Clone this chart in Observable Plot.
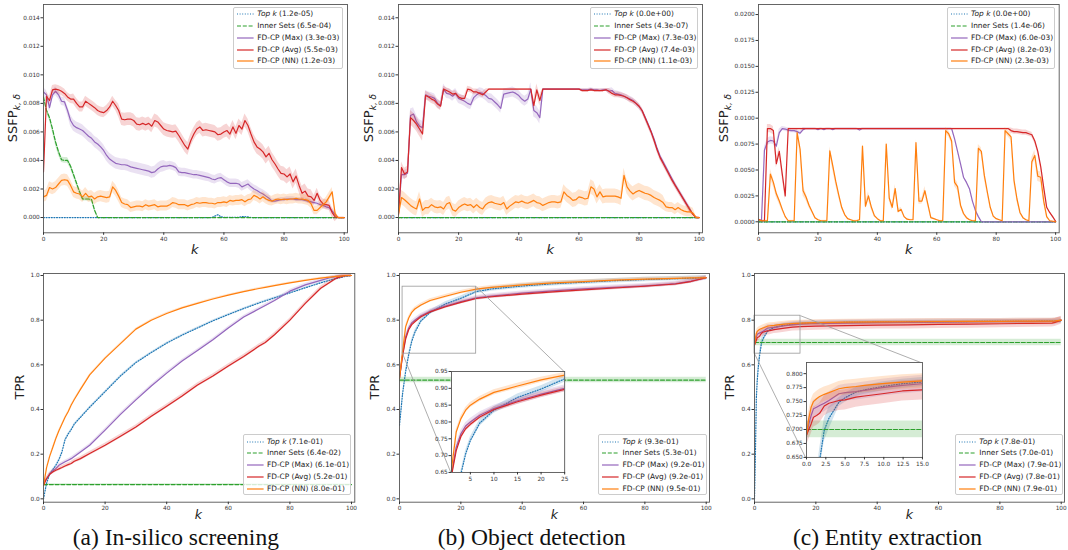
<!DOCTYPE html>
<html><head><meta charset="utf-8">
<script src="https://cdn.jsdelivr.net/npm/d3@7"></script>
<script src="https://cdn.jsdelivr.net/npm/@observablehq/plot@0.6"></script>
<style>
body{margin:0;background:#fff;}
#root{position:relative;width:1068px;height:550px;overflow:hidden;background:#fff;font-family:"DejaVu Sans",sans-serif;}
.legend{position:absolute;border:1px solid #cccccc;border-radius:2px;background:rgba(255,255,255,0.8);box-sizing:border-box;}
.legend .txt{position:absolute;white-space:nowrap;font-size:7.4px;line-height:8px;color:#222;}
.legend svg{position:absolute;overflow:visible;}
</style></head>
<body><div id="root"></div>
<script>
// ---------------- DATA ----------------
const rep = (v, n) => Array(n).fill(v);
const seriesNames = ["Top k", "Inner Sets", "FD-CP (Max)", "FD-CP (Avg)", "FD-CP (NN)"];
const seriesColors = ["#1f77b4", "#2ca02c", "#9467bd", "#d62728", "#ff7f0e"];
const seriesDash = ["1,1.6", "4,1.8", null, null, null];

const xTicks = [0, 20, 40, 60, 80, 100];
const kTop = d3.range(0, 101);

// Top row: SSFP values in units of 1e-3
// (a) In-silico screening
const avgA = [3.2,8.5,8.2,8.95,9.0,8.95,8.85,8.7,8.45,8.3,
 8.3,8.0,7.75,7.75,8.15,8.0,7.85,7.7,7.5,7.4,
 7.35,7.5,7.75,8.15,7.85,7.5,6.9,6.85,6.9,6.9,
 6.8,6.55,6.5,6.6,6.5,6.6,6.4,6.8,6.7,6.45,
 6.2,6.1,6.05,6.0,6.05,5.75,5.4,5.05,4.8,5.4,
 5.85,6.2,6.35,6.1,6.15,6.1,6.05,6.0,5.8,5.85,
 6.0,6.1,5.85,6.35,5.9,6.45,6.2,6.8,6.45,5.85,
 5.3,4.95,4.8,4.6,4.25,4.5,4.05,3.75,3.4,3.1,
 3.05,2.85,3.05,2.5,2.9,2.25,1.7,1.85,1.5,1.45,
 1.2,1.7,1.2,0.95,0.9,0.85,0.35,0.05,0,0,0];
const avgA_err = [...rep(0.3,10), ...rep(0.35,15), ...rep(0.45,45), ...rep(0.5,20), ...rep(0.35,8), ...rep(0.05,3)];
const maxA = [8.8,8.6,7.7,8.6,8.85,8.6,8.15,8.1,7.5,6.8,
 6.45,6.3,6.2,6.1,5.9,5.7,5.55,5.3,5.15,4.95,
 4.7,4.35,4.1,3.95,3.8,3.75,3.7,3.7,3.65,3.55,
 3.5,3.45,3.4,3.35,3.3,3.25,3.15,3.2,3.4,3.55,
 3.6,3.6,3.65,3.6,3.5,3.2,3.15,3.15,3.1,3.05,
 3.0,3.0,2.95,2.9,2.85,2.8,2.7,2.65,2.75,2.8,
 2.65,2.5,2.4,2.4,2.4,2.35,2.15,2.25,2.35,2.15,
 2.0,1.9,1.75,1.65,1.5,1.35,1.15,1.15,1.2,1.25,
 1.25,1.3,1.3,1.3,1.25,1.25,1.25,1.2,1.15,1.1,
 1.05,1.0,0.9,0.85,0.75,0.7,0.45,0.2,0,0,0];
const maxA_err = [...rep(0.3,9), ...rep(0.4,32), ...rep(0.3,35), ...rep(0.15,22), ...rep(0,3)];
const nnA = [1.45,1.55,2.1,2.0,2.1,2.35,2.6,2.65,2.6,2.25,
 1.8,1.7,1.65,1.45,1.7,1.45,1.5,1.3,1.45,1.5,
 1.45,1.4,1.45,2.15,1.9,1.5,1.05,0.95,0.9,0.7,
 0.75,0.8,0.8,0.75,0.9,0.8,0.85,0.9,0.75,0.8,
 0.8,0.8,0.9,1.05,1.0,0.9,0.9,0.9,0.8,0.9,
 0.95,1.05,1.0,1.05,1.05,1.0,1.0,0.95,1.05,1.05,
 1.1,1.05,1.2,1.15,1.2,1.2,1.25,1.1,1.25,1.3,
 1.55,1.45,1.3,1.45,1.3,1.2,1.15,1.25,1.3,1.25,
 1.3,1.25,1.3,1.3,1.35,1.3,1.3,1.25,1.2,0.95,
 0.5,0.5,0.7,0.9,1.1,1.45,1.8,0.25,0,0,0];
const nnA_err = [...rep(0.4,26), ...rep(0.35,63), ...rep(0.3,9), ...rep(0,3)];
const innerA_k = [0,1,2,3,4,5,6,7,8,9,10,11,12,13,14,15,16,17,18,100];
const innerA = [8.45,7.5,7.0,6.2,5.3,4.6,4.05,4.0,4.0,3.6,3.0,2.4,1.8,1.3,1.3,1.3,1.25,0.5,0,0];
const innerA_err = [0.15,0.2,0.2,0.25,0.25,0.25,0.2,0.2,0.2,0.2,0.2,0.2,0.2,0.15,0.15,0.15,0.15,0.1,0,0];
const topkA_k = [0,56,57,58,59,60,65,66,67,68,69,100];
const topkA = [0,0,0.1,0.2,0.05,0.02,0.02,0.06,0.06,0.04,0,0];

// (b) Object detection
const avgB = [0.2,3.5,3.05,3.2,7.0,6.8,6.55,6.2,5.85,8.55,
 8.45,8.3,8.2,7.95,7.8,9.0,8.9,8.8,8.65,8.7,
 8.45,8.35,8.35,9.0,8.95,8.8,8.8,8.7,8.6,8.8,
 ...rep(9.0,15),
 7.85,8.95,8.2,
 ...rep(9.0,13),
 8.9,8.9,8.9,8.95,8.9,8.9,8.9,8.9,8.95,
 8.85,8.7,8.6,8.6,8.55,8.5,8.4,8.25,8.15,8.0,
 7.8,7.5,7.0,6.5,6.0,5.4,4.75,4.2,3.8,3.4,
 3.0,2.6,2.25,1.9,1.55,1.2,0.85,0.5,0.2,0,0];
const avgB_err = [0.1, ...rep(0.4,3), ...rep(0.5,5), ...rep(0.3,6), ...rep(0.2,15), ...rep(0.05,15), ...rep(0.4,3), ...rep(0.05,13), ...rep(0.1,9), ...rep(0.2,28), ...rep(0.05,3)];
const maxB = [0.3,3.0,3.0,3.1,7.15,7.25,6.7,6.4,6.3,8.6,
 8.5,8.45,8.35,8.0,7.85,9.0,8.7,8.65,8.5,8.7,
 8.35,8.25,8.15,8.0,7.9,8.4,8.6,8.75,8.7,8.55,
 8.35,8.3,8.1,7.9,7.65,8.65,8.7,8.75,8.8,8.7,
 8.55,8.3,8.15,8.3,9.0,7.5,7.35,7.0,
 ...rep(9.0,13),
 8.95,8.95,8.95,9.0,8.95,8.95,8.9,8.95,8.95,
 8.85,8.9,8.7,8.65,8.6,8.5,8.4,8.3,8.2,8.0,
 7.8,7.5,7.05,6.55,6.05,5.5,4.85,4.3,3.9,3.5,
 3.1,2.7,2.3,1.95,1.6,1.25,0.9,0.55,0.2,0,0];
const maxB_err = [0.1, ...rep(0.3,3), ...rep(0.45,5), ...rep(0.3,6), ...rep(0.35,29), ...rep(0.45,4), ...rep(0.05,13), ...rep(0.1,9), ...rep(0.2,28), ...rep(0.05,3)];
const nnB = [0.25,1.4,1.25,1.05,0.85,0.7,0.6,1.3,0.5,0.7,
 0.7,0.9,0.75,0.7,0.75,0.6,0.95,1.05,0.55,0.45,
 0.7,0.85,0.95,0.85,0.9,0.7,0.9,0.7,0.6,0.9,
 1.05,1.1,1.0,0.95,0.9,1.05,0.6,0.8,0.95,1.1,
 1.05,1.15,1.05,1.0,1.1,1.2,1.05,1.0,0.85,0.95,
 1.05,1.1,1.1,1.05,1.1,1.8,1.55,1.4,1.2,1.25,
 1.45,1.4,1.3,1.35,2.15,2.0,1.45,1.8,1.45,1.5,
 1.5,1.5,1.5,1.45,1.35,2.95,2.15,1.85,1.65,1.8,
 1.9,1.8,1.7,1.65,1.55,1.4,1.3,1.2,1.05,0.75,
 0.7,0.7,0.55,0.7,0.55,0.45,0.4,0.4,0.3,0,0];
const nnB_err = [...rep(0.5,11), ...rep(0.45,44), ...rep(0.5,34), ...rep(0.35,10), ...rep(0.05,2)];
const zeroK = [0, 100];
const zeroV = [0, 0];

// (c) Entity extraction
const avgC = [0.25,0.1,0.1,9.0,9.0,8.8,5.6,6.8,4.6,2.5,
 9.0, ...rep(9.0,74),
 8.8,8.7,8.7,8.65,8.6,8.6,8.5,8.4,7.8,6.8,5.3,3.3,1.4,0.9,0.5,0.05];
const avgC_err = [...rep(0.05,3), ...rep(0.4,7), ...rep(0.05,75), ...rep(0.25,12), ...rep(0.1,4)];
const maxC = [0.2,0.1,6.9,7.7,7.85,7.8,7.3,8.6,9.0,8.95,
 8.85,8.8,8.8,8.7,8.55,8.9,9.0,9.0,9.0,9.0,
 8.9,9.0,8.9,9.0,9.0,8.9,
 ...rep(9.0,8), 8.85, ...rep(9.0,31),
 8.0,6.8,5.6,4.3,3.8,3.2,2.0,1.1,0.5,
 ...rep(0,26)];
const maxC_err = [...rep(0.05,2), ...rep(0.35,6), ...rep(0.2,8), ...rep(0.07,50), ...rep(0.1,9), ...rep(0,26)];
const nnC = [0.2,0.1,0.1,0.1,4.6,3.8,2.7,2.0,1.2,0.5,
 0.1,0.1,0.1,8.6,7.0,3.0,2.4,1.6,1.0,0.4,
 0.2,0.1,0.1,0.1,6.85,5.4,3.9,2.6,1.4,0.7,
 0.3,0.2,0.1,0.1,0.2,7.3,1.5,2.5,1.4,0.6,
 0.3,0.1,0.1,7.5,2.3,1.4,3.2,1.0,1.2,0.5,
 0.25,0.2,0.2,7.65,2.0,2.0,3.0,1.7,0.4,0.3,
 0.2,0.1,0.1,8.8,8.5,7.8,3.8,3.4,1.6,0.8,
 0.4,0.2,0.1,0.1,7.1,6.8,4.5,2.9,1.4,0.55,
 0.3,0.2,0.1,8.8,8.5,8.2,4.0,2.2,0.9,0.4,
 0.2,0.1,5.8,6.4,4.4,4.3,2.0,0.5,0.1,0.05,0];
const nnC_err = [...rep(0.05,4), 0.5,0.4,0.35,0.3,0.2,0.1, ...rep(0.05,3),
 0.4,0.5,0.5,0.35,0.25,0.15,0.1, ...rep(0.05,4),
 0.4,0.45,0.4,0.3,0.2,0.1,0.05, ...rep(0.05,4),
 0.3,0.3,0.4,0.25,0.15,0.05, ...rep(0.05,2),
 0.3,0.3,0.3,0.4,0.2,0.2,0.1,0.05, ...rep(0.05,2),
 0.3,0.3,0.3,0.4,0.25,0.1,0.05,0.05, ...rep(0.05,2),
 0.3,0.3,0.3,0.4,0.4,0.25,0.15,0.1,0.05, ...rep(0.05,2),
 0.35,0.35,0.4,0.3,0.2,0.1,0.05,0.05, 0.05,
 0.3,0.3,0.35,0.4,0.3,0.15,0.1,0.05, 0.05,
 0.4,0.5,0.5,0.5,0.3,0.15,0.05,0.05,0.05];

// Bottom row: TPR
// (a)
const kBA = [0,1,2,3,4,5,6,7,8,9,10,12,15,20,25,30,35,40,45,50,55,60,65,70,72,75,80,85,90,93,95,98,100];
const nnBA = [0.06,0.14,0.19,0.23,0.27,0.305,0.335,0.365,0.39,0.42,0.445,0.49,0.555,0.63,0.695,0.76,0.80,0.83,0.855,0.875,0.895,0.912,0.928,0.942,0.947,0.955,0.967,0.978,0.988,0.993,0.996,0.999,1.0];
const topkBA = [0,0.07,0.11,0.13,0.15,0.175,0.21,0.265,0.29,0.31,0.335,0.365,0.41,0.48,0.55,0.61,0.655,0.697,0.733,0.765,0.797,0.825,0.852,0.877,0.886,0.9,0.922,0.945,0.967,0.979,0.986,0.996,1.0];
const maxBA = [0.07,0.09,0.11,0.125,0.135,0.15,0.158,0.166,0.173,0.18,0.19,0.21,0.24,0.308,0.378,0.443,0.505,0.563,0.617,0.664,0.712,0.765,0.814,0.851,0.866,0.888,0.93,0.958,0.978,0.99,0.996,1.0,1.0];
const avgBA = [0.06,0.09,0.11,0.12,0.128,0.134,0.14,0.147,0.153,0.158,0.168,0.18,0.203,0.24,0.28,0.322,0.37,0.415,0.46,0.51,0.55,0.595,0.637,0.684,0.70,0.735,0.80,0.875,0.943,0.97,0.988,1.0,1.0];
const innerBA = [0.064, 0.064];
// (b)
const kBB = [0,1,2,3,4,5,7,10,15,20,25,30,40,50,60,70,80,90,95,100];
const nnBB = [0.54,0.66,0.77,0.81,0.835,0.85,0.868,0.888,0.907,0.925,0.939,0.947,0.958,0.967,0.973,0.979,0.984,0.987,0.989,0.99];
const maxBB = [0.54,0.645,0.725,0.765,0.788,0.8,0.82,0.84,0.863,0.883,0.9,0.908,0.921,0.931,0.94,0.947,0.954,0.964,0.975,0.99];
const avgBB = [0.54,0.64,0.715,0.757,0.78,0.793,0.815,0.837,0.86,0.88,0.897,0.905,0.917,0.927,0.936,0.944,0.952,0.962,0.973,0.99];
const topkBB = [0.33,0.47,0.57,0.645,0.705,0.745,0.797,0.835,0.873,0.898,0.928,0.94,0.953,0.963,0.97,0.977,0.982,0.986,0.988,0.99];
const innerBB = [0.532, 0.532];
// (c)
const kBC = [0,0.3,0.6,0.9,1.3,1.7,2.3,2.9,4.2,5,6.4,7.5,9.8,12.4,15,20,30,40,50,60,70,80,90,97,98,100];
const nnBC = [0.69,0.72,0.74,0.75,0.755,0.759,0.763,0.766,0.773,0.775,0.777,0.779,0.782,0.785,0.787,0.789,0.791,0.792,0.793,0.794,0.795,0.795,0.796,0.796,0.797,0.80];
const maxBC = [0.69,0.71,0.725,0.737,0.74,0.743,0.747,0.752,0.764,0.766,0.768,0.770,0.775,0.779,0.782,0.785,0.787,0.789,0.79,0.791,0.792,0.793,0.794,0.794,0.795,0.80];
const avgBC = [0.69,0.70,0.71,0.722,0.725,0.729,0.742,0.747,0.752,0.753,0.758,0.760,0.764,0.769,0.771,0.773,0.776,0.778,0.779,0.781,0.782,0.784,0.786,0.787,0.79,0.80];
const topkBC = [0.0,0.2,0.45,0.53,0.6,0.645,0.699,0.72,0.749,0.757,0.767,0.771,0.777,0.782,0.785,0.787,0.79,0.791,0.792,0.793,0.794,0.795,0.795,0.796,0.796,0.797];
const innerBC = [0.70, 0.70];

// legend values
const legTopA = ["1.2e-05","6.5e-04","3.3e-03","5.5e-03","1.2e-03"];
const legTopB = ["0.0e+00","4.3e-07","7.3e-03","7.4e-03","1.1e-03"];
const legTopC = ["0.0e+00","1.4e-06","6.0e-03","8.2e-03","2.3e-03"];
const legBotA = ["7.1e-01","6.4e-02","6.1e-01","5.2e-01","8.0e-01"];
const legBotB = ["9.3e-01","5.3e-01","9.2e-01","9.2e-01","9.5e-01"];
const legBotC = ["7.8e-01","7.0e-01","7.9e-01","7.8e-01","7.9e-01"];
const captions = ["(a) In-silico screening", "(b) Object detection", "(c) Entity extraction"];

// ---------------- DRAWING ----------------
const root = document.getElementById("root");
const S = (idx, k, v, e) => ({idx, k, v, e});

function seriesMarks(series) {
  const marks = [];
  for (const s of series) {
    const rows = s.k.map((k, i) => ({k, v: s.v[i], e: s.e ? s.e[i] : 0}));
    const c = seriesColors[s.idx];
    if (s.e) marks.push(Plot.areaY(rows, {x: "k", y1: d => d.v - d.e, y2: d => d.v + d.e, fill: c, fillOpacity: 0.2, clip: true}));
    marks.push(Plot.lineY(rows, {x: "k", y: "v", stroke: c, strokeWidth: 1.2, strokeDasharray: seriesDash[s.idx] || undefined, clip: true}));
  }
  return marks;
}

function panel(cfg) {
  const [L, T, R, B] = cfg.frame;
  const m = cfg.m || {l: 30, r: 4, t: 4, b: 14};
  const p = Plot.plot({
    width: R - L + m.l + m.r, height: B - T + m.t + m.b,
    marginLeft: m.l, marginRight: m.r, marginTop: m.t, marginBottom: m.b,
    x: {domain: cfg.xDomain}, y: {domain: cfg.yDomain},
    style: {fontFamily: "DejaVu Sans", fontSize: "5.8px", color: "#333", background: "transparent", overflow: "visible", maxWidth: "none"},
    marks: [
      ...(cfg.under || []),
      ...seriesMarks(cfg.series),
      ...(cfg.extra || []),
      Plot.frame({stroke: "#555", strokeWidth: 0.9}),
      Plot.axisX({ticks: cfg.xTicks, tickSize: 2.5, tickPadding: 1.5, tickFormat: cfg.xFmt || (d => d), label: null}),
      Plot.axisY({ticks: cfg.yTicks, tickSize: 2.5, tickPadding: 1.2, tickFormat: cfg.yFmt, label: null})
    ]
  });
  p.style.position = "absolute";
  p.style.left = (L - m.l) + "px";
  p.style.top = (T - m.t) + "px";
  root.appendChild(p);
  p._off = [L - m.l, T - m.t];
  return p;
}

function legend(left, top, w, h, vals) {
  const box = document.createElement("div");
  box.className = "legend";
  Object.assign(box.style, {left: left + "px", top: top + "px", width: w + "px", height: h + "px"});
  vals.forEach((val, i) => {
    const cy = 7.3 + i * 11.75;
    const sv = document.createElementNS("http://www.w3.org/2000/svg", "svg");
    sv.setAttribute("width", 17); sv.setAttribute("height", 4);
    sv.style.left = "3.2px"; sv.style.top = (cy - 2 - 1) + "px";
    sv.innerHTML = `<line x1="0" x2="16.6" y1="2" y2="2" stroke="${seriesColors[i]}" stroke-width="1.2" ${seriesDash[i] ? `stroke-dasharray="${seriesDash[i]}"` : ""}/>`;
    box.appendChild(sv);
    const t = document.createElement("div");
    t.className = "txt";
    t.style.left = "23.3px"; t.style.top = (cy - 4 - 1) + "px";
    t.innerHTML = (i === 0 ? `<i>${seriesNames[i]}</i>` : seriesNames[i]) + ` (${val})`;
    box.appendChild(t);
  });
  root.appendChild(box);
}

function inset(main, bounds, cfg) {
  const xs = main.scale("x"), ys = main.scale("y");
  const [ox, oy] = main._off;
  const L = ox + xs.apply(bounds.x[0]), R = ox + xs.apply(bounds.x[1]);
  const T = oy + ys.apply(bounds.y[1]), B = oy + ys.apply(bounds.y[0]);
  return panel({...cfg, frame: [L, T, R, B], m: {l: 24, r: 4, t: 4, b: 12}, under: [Plot.frame({fill: "white"})]});
}

function zoomMarks(zr, bounds) {
  const rect = [{x1: zr.x[0], x2: zr.x[1], y1: zr.y[0], y2: zr.y[1]}];
  const links = [
    {x1: zr.x[1], y1: zr.y[1], x2: bounds.x[1], y2: bounds.y[1]},
    {x1: zr.x[0], y1: zr.y[0], x2: bounds.x[0], y2: bounds.y[0]}
  ];
  return [
    Plot.rect(rect, {x1: "x1", x2: "x2", y1: "y1", y2: "y2", fill: "none", stroke: "#999", strokeWidth: 0.8}),
    Plot.link(links, {x1: "x1", y1: "y1", x2: "x2", y2: "y2", stroke: "#999", strokeWidth: 0.8})
  ];
}

const milli3 = d => (d / 1000).toFixed(3);
const milli4 = d => (d / 1000).toFixed(4);
const f1 = d => d.toFixed(1);
const topTicks = [0, 2, 4, 6, 8, 10, 12, 14];
const topTicksC = [0, 2.5, 5, 7.5, 10, 12.5, 15, 17.5, 20];
const tprTicks = [0, 0.2, 0.4, 0.6, 0.8, 1.0];

// Top row
panel({frame: [42.7, 4, 346.7, 232.3], xDomain: [0, 101.1], yDomain: [-1.07, 14.93], xTicks, yTicks: topTicks, yFmt: milli3,
  series: [S(0, topkA_k, topkA), S(1, innerA_k, innerA, innerA_err), S(2, kTop, maxA, maxA_err), S(3, kTop, avgA, avgA_err), S(4, kTop, nnA, nnA_err)]});
panel({frame: [398.3, 4, 702.3, 232.3], xDomain: [0, 101.1], yDomain: [-1.07, 14.93], xTicks, yTicks: topTicks, yFmt: milli3,
  series: [S(0, zeroK, zeroV), S(1, zeroK, zeroV), S(2, kTop, maxB, maxB_err), S(3, kTop, avgB, avgB_err), S(4, kTop, nnB, nnB_err)]});
panel({frame: [758.3, 4, 1059, 232.3], xDomain: [0, 101.2], yDomain: [-1.06, 20.97], xTicks, yTicks: topTicksC, yFmt: milli4, m: {l: 34, r: 4, t: 4, b: 14},
  series: [S(0, zeroK, zeroV), S(1, zeroK, zeroV), S(2, kTop, maxC, maxC_err), S(3, kTop, avgC, avgC_err), S(4, kTop, nnC, nnC_err)]});

// Bottom row
const botY = [-0.015, 1.009];
panel({frame: [42.7, 273, 354, 501.7], xDomain: [0, 101.07], yDomain: botY, xTicks, yTicks: tprTicks, yFmt: f1, m: {l: 24, r: 4, t: 4, b: 14},
  series: [S(0, kBA, topkBA, rep(0.004, 33)), S(1, zeroK, innerBA, [0.004, 0.004]), S(2, kBA, maxBA, rep(0.007, 33)), S(3, kBA, avgBA, rep(0.009, 33)), S(4, kBA, nnBA, rep(0.004, 33))]});

const serB = [S(0, kBB, topkBB, rep(0.01, 20)), S(1, zeroK, innerBB, [0.012, 0.012]), S(2, kBB, maxBB, rep(0.01, 20)), S(3, kBB, avgBB, rep(0.008, 20)), S(4, kBB, nnBB, rep(0.008, 20))];
const zoomB = {x: [1, 25], y: [0.65, 0.95]};
const insetB = {x: [16.7, 53.6], y: [0.119, 0.571]};
const mainB = panel({frame: [399.3, 273, 709.3, 501.7], xDomain: [0, 101.07], yDomain: botY, xTicks, yTicks: tprTicks, yFmt: f1, m: {l: 24, r: 4, t: 4, b: 14},
  series: serB, extra: zoomMarks(zoomB, insetB)});
inset(mainB, insetB, {xDomain: zoomB.x, yDomain: zoomB.y, xTicks: [5, 10, 15, 20, 25], yTicks: [0.65, 0.70, 0.75, 0.80, 0.85, 0.90, 0.95], yFmt: d => d.toFixed(2), series: serB});

const serC = [S(0, kBC, topkBC, [...rep(0.02, 8), ...rep(0.008, 18)]), S(1, zeroK, innerBC, [0.015, 0.015]), S(2, kBC, maxBC, rep(0.015, 26)), S(3, kBC, avgBC, rep(0.018, 26)), S(4, kBC, nnBC, rep(0.013, 26))];
const zoomC = {x: [0, 15], y: [0.65, 0.82]};
const insetC = {x: [16.7, 54.5], y: [0.184, 0.609]};
const mainC = panel({frame: [754.3, 273, 1064.3, 501.7], xDomain: [0, 101.07], yDomain: botY, xTicks, yTicks: tprTicks, yFmt: f1, m: {l: 24, r: 3, t: 4, b: 14},
  series: serC, extra: zoomMarks(zoomC, insetC)});
inset(mainC, insetC, {xDomain: zoomC.x, yDomain: zoomC.y, xTicks: [0, 2.5, 5, 7.5, 10, 12.5, 15], xFmt: f1, yTicks: [0.65, 0.675, 0.7, 0.725, 0.75, 0.775, 0.8], yFmt: d => d.toFixed(3), series: serC});

// Legends
legend(233, 7, 109.7, 62, legTopA);
legend(590, 7, 108.3, 62, legTopB);
legend(946.7, 7, 108.3, 62, legTopC);
legend(242.7, 434.3, 108, 60.7, legBotA);
legend(598.3, 434.3, 108.4, 60.7, legBotB);
legend(955, 434.3, 108.3, 60.7, legBotC);

// Text overlay: axis labels and captions
const ov = document.createElementNS("http://www.w3.org/2000/svg", "svg");
ov.setAttribute("width", 1068); ov.setAttribute("height", 550);
Object.assign(ov.style, {position: "absolute", left: "0px", top: "0px", pointerEvents: "none"});
let html = "";
const ssfpX = [17.3, 373, 728.3];
for (const x of ssfpX) {
  html += `<text transform="translate(${x},118) rotate(-90)" text-anchor="middle" font-family="DejaVu Sans" font-size="13" fill="#222">SSFP<tspan dy="2.6" font-size="9" font-style="italic">k, δ</tspan></text>`;
}
const tprX = [24, 379, 734];
for (const x of tprX) html += `<text transform="translate(${x},387) rotate(-90)" text-anchor="middle" font-family="DejaVu Sans" font-size="13" fill="#222">TPR</text>`;
const kTopX = [194.7, 550.3, 908.7], kBotX = [198.3, 554.3, 909.3];
for (const x of kTopX) html += `<text x="${x}" y="254" text-anchor="middle" font-family="DejaVu Sans" font-style="italic" font-size="13" fill="#222">k</text>`;
for (const x of kBotX) html += `<text x="${x}" y="519" text-anchor="middle" font-family="DejaVu Sans" font-style="italic" font-size="12.5" fill="#222">k</text>`;
const capX = [175.8, 531.7, 887.5];
captions.forEach((c, i) => { html += `<text x="${capX[i]}" y="544.5" text-anchor="middle" font-family="Liberation Serif, Times New Roman, serif" font-size="23.5" fill="#111">${c}</text>`; });
ov.innerHTML = html;
root.appendChild(ov);
</script>
</body></html>
